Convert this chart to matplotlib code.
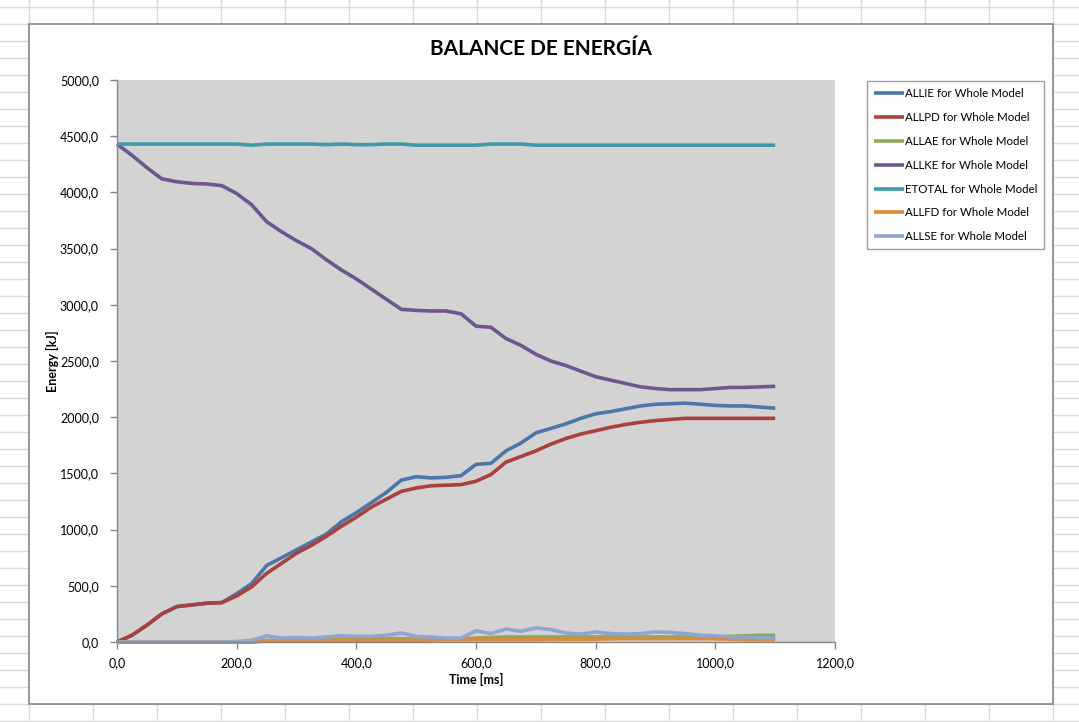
import matplotlib
matplotlib.use("Agg")
import matplotlib.pyplot as plt
from matplotlib.lines import Line2D
from matplotlib.patches import Rectangle
from matplotlib.ticker import FuncFormatter, MultipleLocator

# ---------------- data ----------------
time_ms = [0, 25, 50, 75, 100, 125, 150, 175, 200, 225, 250, 275, 300, 325, 350,
           375, 400, 425, 450, 475, 500, 525, 550, 575, 600, 625, 650, 675, 700,
           725, 750, 775, 800, 825, 850, 875, 900, 925, 950, 975, 1000, 1025,
           1050, 1075, 1100]

allie = [0, 60, 150, 250, 315, 330, 345, 350, 430, 520, 680, 750, 820, 890, 960,
         1070, 1150, 1240, 1330, 1440, 1470, 1460, 1465, 1480, 1580, 1590, 1700,
         1770, 1860, 1900, 1940, 1990, 2030, 2050, 2075, 2100, 2115, 2120, 2125,
         2115, 2105, 2100, 2100, 2090, 2080]

allpd = [0, 60, 150, 250, 315, 330, 345, 350, 410, 490, 610, 700, 790, 860, 940,
         1030, 1110, 1200, 1270, 1340, 1370, 1390, 1395, 1400, 1430, 1490, 1600,
         1650, 1700, 1760, 1810, 1850, 1880, 1910, 1935, 1955, 1970, 1980, 1990,
         1990, 1990, 1990, 1990, 1990, 1990]

allae = [0, 0, 0, 0, 0, 0, 0, 0, 0, 0, 15, 15, 15, 15, 20, 25, 25, 25, 30, 30, 25,
         25, 25, 30, 35, 40, 45, 45, 45, 45, 45, 45, 45, 45, 45, 45, 45, 45, 45,
         45, 45, 50, 55, 60, 60]

allke = [4430, 4330, 4220, 4120, 4095, 4080, 4075, 4060, 3990, 3890, 3740, 3650,
         3570, 3500, 3400, 3310, 3230, 3140, 3050, 2960, 2950, 2945, 2945, 2920,
         2810, 2800, 2700, 2640, 2560, 2500, 2460, 2410, 2360, 2330, 2300, 2270,
         2255, 2245, 2245, 2245, 2255, 2265, 2265, 2270, 2275]

etotal = [4430, 4430, 4430, 4430, 4430, 4430, 4430, 4430, 4430, 4420, 4430, 4430,
          4430, 4430, 4425, 4430, 4425, 4425, 4430, 4430, 4420, 4420, 4420, 4420,
          4420, 4430, 4430, 4430, 4420, 4420, 4420, 4420, 4420, 4420, 4420, 4420,
          4420, 4420, 4420, 4420, 4420, 4420, 4420, 4420, 4420]

allfd = [0, 0, 0, 0, 0, 0, 0, 0, 0, 0, 10, 12, 14, 15, 15, 15, 15, 15, 15, 15, 15,
         18, 20, 20, 20, 20, 20, 20, 20, 22, 24, 25, 25, 28, 30, 30, 30, 30, 30,
         30, 28, 25, 20, 20, 20]

allse = [0, 0, 0, 0, 0, 0, 0, 0, 5, 15, 55, 35, 40, 35, 45, 55, 50, 50, 60, 80, 50,
         45, 35, 35, 100, 75, 115, 95, 125, 110, 80, 70, 90, 75, 70, 75, 90, 85,
         75, 60, 55, 45, 45, 40, 35]

series = [
    ("ALLIE for Whole Model", allie, "#4A76A8"),
    ("ALLPD for Whole Model", allpd, "#A9413E"),
    ("ALLAE for Whole Model", allae, "#8DAA52"),
    ("ALLKE for Whole Model", allke, "#6E5791"),
    ("ETOTAL for Whole Model", etotal, "#3F99AD"),
    ("ALLFD for Whole Model", allfd, "#E2883D"),
    ("ALLSE for Whole Model", allse, "#8FA6CF"),
]

title = "BALANCE DE ENERGÍA"
xlabel = "Time [ms]"
ylabel = "Energy [kJ]"

# ---------------- figure ----------------
W, H = 1079, 722
fig = plt.figure(figsize=(W / 100, H / 100), dpi=100)
fig.patch.set_facecolor("white")
plt.rcParams["font.family"] = ["Lato", "DejaVu Sans"]

def fx(px):
    return px / W

def fy(py):
    return 1 - py / H

# spreadsheet gridlines
grid_c = "#DADADA"
for k in range(0, 20):
    xpx = 29 + 64 * k
    if xpx > W:
        break
    fig.add_artist(Line2D([fx(xpx), fx(xpx)], [0, 1], color=grid_c, lw=1.0,
                          transform=fig.transFigure, zorder=0))
for k in range(0, 50):
    ypx = 7 + 17 * k
    if ypx > H:
        break
    fig.add_artist(Line2D([0, 1], [fy(ypx), fy(ypx)], color=grid_c, lw=1.0,
                          transform=fig.transFigure, zorder=0))

# chart area
fig.add_artist(Rectangle((fx(29), fy(704)), fx(1053) - fx(29), fy(24) - fy(704),
                         facecolor="white", edgecolor="#878787", lw=1.2,
                         transform=fig.transFigure, zorder=1))

ax = fig.add_axes([fx(117), fy(642), fx(835) - fx(117), fy(80) - fy(642)], zorder=2)
ax.set_facecolor("#D3D3D3")

handles = []
for name, vals, col in series:
    h, = ax.plot(time_ms, vals, color=col, lw=2.6, solid_capstyle="butt",
                 solid_joinstyle="round", label=name, clip_on=False)
    handles.append(h)

ax.set_xlim(0, 1200)
ax.set_ylim(0, 5000)
ax.xaxis.set_major_locator(MultipleLocator(200))
ax.yaxis.set_major_locator(MultipleLocator(500))
fmt = FuncFormatter(lambda v, p: f"{v:.1f}".replace(".", ","))
ax.xaxis.set_major_formatter(fmt)
ax.yaxis.set_major_formatter(fmt)

for s in ["top", "right"]:
    ax.spines[s].set_visible(False)
for s in ["left", "bottom"]:
    ax.spines[s].set_color("#868686")
    ax.spines[s].set_linewidth(1.0)
ax.tick_params(axis="both", direction="out", length=5, width=1.0, color="#868686",
               labelsize=9, labelcolor="black")
ax.tick_params(axis="x", pad=6)
ax.tick_params(axis="y", pad=8)

ax.set_xlabel(xlabel, fontsize=9, fontweight="bold", labelpad=3)
ax.set_ylabel(ylabel, fontsize=9, fontweight="bold")
ax.yaxis.set_label_coords(-(117 - 59) / 718, 0.5)

fig.text(fx(541), fy(49), title, ha="center", va="center", fontsize=15,
         fontweight="bold", zorder=3)

leg = fig.legend(handles=handles, loc="upper left",
                 bbox_to_anchor=(fx(867), fy(81)), bbox_transform=fig.transFigure,
                 frameon=True, fancybox=False, edgecolor="#868686",
                 fontsize=8.3, handlelength=2.6, handletextpad=0.1,
                 labelspacing=1.12, borderpad=0.6, borderaxespad=0)
leg.get_frame().set_linewidth(1.0)
leg.set_zorder(3)

fig.savefig("out.png", dpi=100)
